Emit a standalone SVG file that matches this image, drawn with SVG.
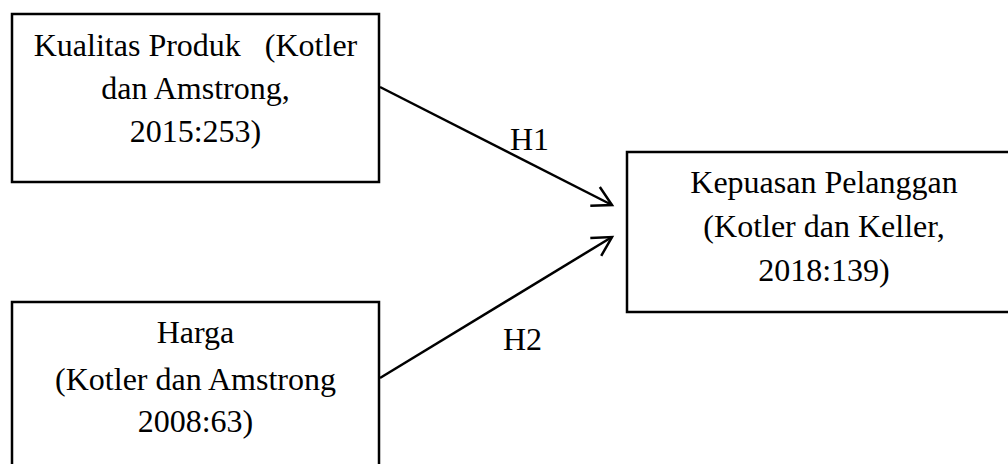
<svg xmlns="http://www.w3.org/2000/svg" width="1008" height="464" viewBox="0 0 1008 464">
<style>
.box{fill:#fff;stroke:#000;stroke-width:2.5}
.t{font-family:"Liberation Serif","Times New Roman",serif;font-size:32px;fill:#000}
.c{text-anchor:middle}
.ln{fill:none;stroke:#000;stroke-width:2.5}
</style>
<defs>
<marker id="arr" markerUnits="userSpaceOnUse" markerWidth="30" markerHeight="30" refX="0" refY="0" viewBox="-22 -15 26 30" orient="auto" overflow="visible">
<path d="M-19,-10.5 L0,0 L-19,10.5" fill="none" stroke="#000" stroke-width="2.5"/>
</marker>
</defs>
<rect width="1008" height="464" fill="#fff"/>
<g id="node-kualitas">
<rect class="box" x="12" y="14" width="367" height="168"/>
<text class="t c" x="195.5" y="56" xml:space="preserve">Kualitas Produk   (Kotler</text>
<text class="t c" x="195.5" y="99">dan Amstrong,</text>
<text class="t c" x="195.5" y="142">2015:253)</text>
</g>
<g id="node-harga">
<rect class="box" x="12" y="302" width="367" height="180"/>
<text class="t c" x="195.5" y="343">Harga</text>
<text class="t c" x="195.5" y="390">(Kotler dan Amstrong</text>
<text class="t c" x="195.5" y="432">2008:63)</text>
</g>
<g id="node-kepuasan">
<rect class="box" x="627" y="152" width="400" height="160"/>
<text class="t c" x="824" y="193">Kepuasan Pelanggan</text>
<text class="t c" x="824" y="237">(Kotler dan Keller,</text>
<text class="t c" x="824" y="281">2018:139)</text>
</g>
<g id="connectors">
<line class="ln" x1="380" y1="87" x2="612" y2="205" marker-end="url(#arr)"/>
<line class="ln" x1="380" y1="378" x2="612" y2="237" marker-end="url(#arr)"/>
<text class="t" x="510" y="150">H1</text>
<text class="t" x="503" y="350">H2</text>
</g>
</svg>
